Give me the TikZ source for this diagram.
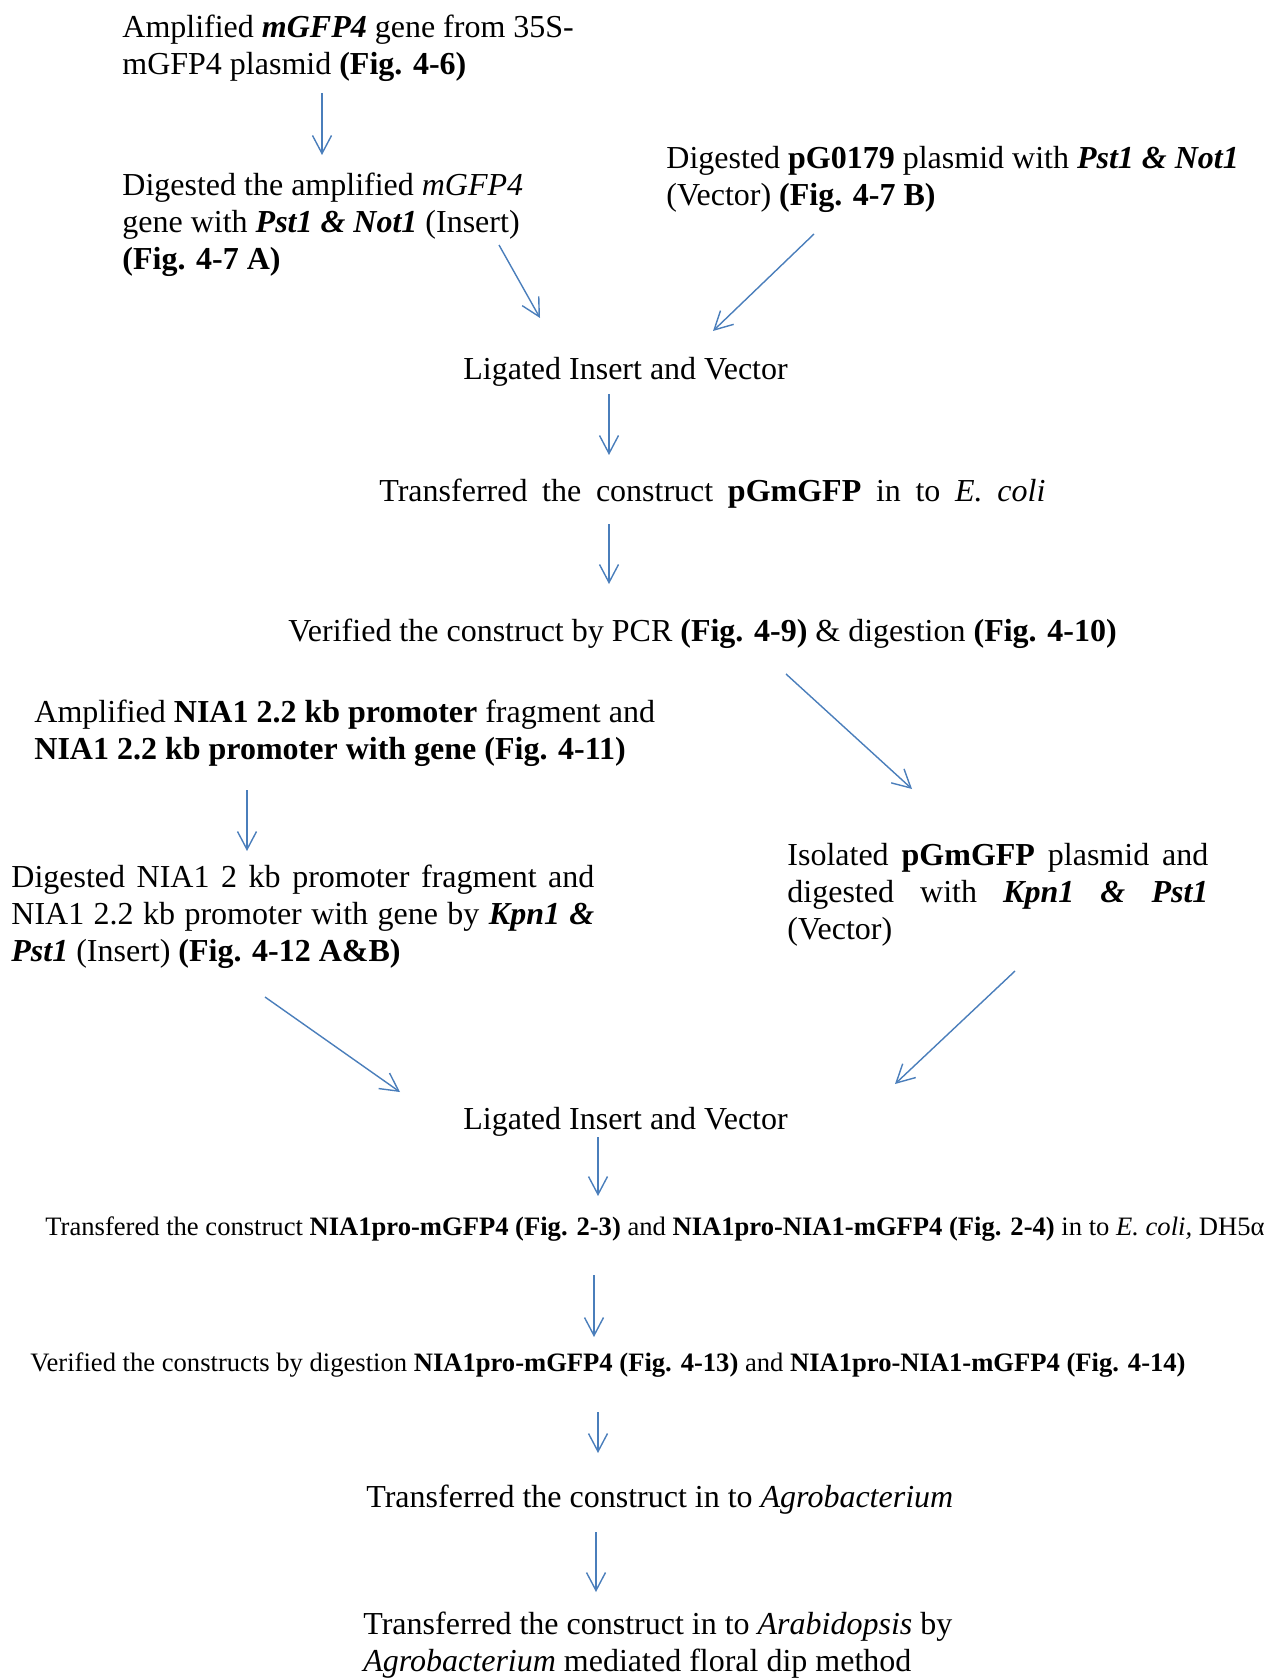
\documentclass[tikz,border=0pt]{standalone}
\usepackage{fontspec}
\setmainfont{Liberation Serif}
\usetikzlibrary{arrows.meta}
\definecolor{flowblue}{RGB}{74,126,187}
\newcommand{\spreadline}[2]{\makebox[#1][s]{#2}}

\begin{document}
\begin{tikzpicture}[x=0.5pt, y=-0.5pt,
  stage/.style={inner sep=0pt, anchor=base west, align=left,
    font=\fontsize{16}{18.5}\selectfont},
  stagesmall/.style={inner sep=0pt, anchor=base west,
    font=\fontsize{13.3}{15}\selectfont},
  flow/.style={draw=flowblue, line width=0.7pt,
    -{Straight Barb[length=9pt,width=9.5pt]}}]
\useasboundingbox (0,0) rectangle (1281,1679);

% first construct (base = last line)
\node[stage] (ampgfp) at (122,75) {Amplified \textbf{\textit{mGFP4}} gene from 35S-\\
  mGFP4 plasmid \textbf{(Fig. 4-6)}};
\node[stage] (diginsert) at (122,270) {Digested the amplified \textit{mGFP4}\\
  gene with \textbf{\textit{Pst1 \& Not1}} (Insert)\\
  \textbf{(Fig. 4-7 A)}};
\node[stage] (digvector) at (666,206) {Digested \textbf{pG0179} plasmid with \textbf{\textit{Pst1 \& Not1}}\\
  (Vector) \textbf{(Fig. 4-7 B)}};
\node[stage] (ligone) at (463,380) {Ligated Insert and Vector};
\node[stage] (ecolione) at (379,502)
  {\spreadline{333pt}{Transferred the construct \textbf{pGmGFP} in to \textit{E. coli}}};
\node[stage] (verone) at (288,641) {Verified the construct by PCR \textbf{(Fig. 4-9)} \& digestion \textbf{(Fig. 4-10)}};

% second construct
\node[stage] (ampnia) at (34,759) {Amplified \textbf{NIA1 2.2 kb promoter} fragment and\\
  \textbf{NIA1 2.2 kb promoter with gene (Fig. 4-11)}};
\node[stage] (dignia) at (11,961)
  {\spreadline{291.5pt}{Digested NIA1 2 kb promoter fragment and}\\
  \spreadline{291.5pt}{NIA1 2.2 kb promoter with gene by \textbf{\textit{Kpn1 \&}}}\\
  \textbf{\textit{Pst1}} (Insert) \textbf{(Fig. 4-12 A\&B)}};
\node[stage] (isolate) at (787,939)
  {\spreadline{210.5pt}{Isolated \textbf{pGmGFP} plasmid and}\\
  \spreadline{210.5pt}{digested with \textbf{\textit{Kpn1 \& Pst1}}}\\
  (Vector)};
\node[stage] (ligtwo) at (463,1129) {Ligated Insert and Vector};
\node[stagesmall] (ecolitwo) at (45,1235) {Transfered the construct \textbf{NIA1pro-mGFP4 (Fig. 2-3)} and
  \textbf{NIA1pro-NIA1-mGFP4 (Fig. 2-4)} in to \textit{E. coli,} DH5α};
\node[stagesmall] (vertwo) at (30,1371) {Verified the constructs by digestion \textbf{NIA1pro-mGFP4 (Fig. 4-13)} and
  \textbf{NIA1pro-NIA1-mGFP4 (Fig. 4-14)}};
\node[stage] (agro) at (366,1507) {Transferred the construct in to \textit{Agrobacterium}};
\node[stage] (arab) at (363,1671) {Transferred the construct in to \textit{Arabidopsis} by\\
  \textit{Agrobacterium} mediated floral dip method};

% arrow ends
\coordinate (a1) at (322,93);    \coordinate (b1) at (322,155);
\coordinate (a2) at (499,245);   \coordinate (b2) at (540,318);
\coordinate (a3) at (814,234);   \coordinate (b3) at (713,331);
\coordinate (a4) at (609,394);   \coordinate (b4) at (609,455);
\coordinate (a5) at (609,524);   \coordinate (b5) at (609,584);
\coordinate (a6) at (786,674);   \coordinate (b6) at (912,789);
\coordinate (a7) at (247,790);   \coordinate (b7) at (247,851);
\coordinate (a8) at (265,997);   \coordinate (b8) at (400,1092);
\coordinate (a9) at (1015,971);  \coordinate (b9) at (895,1084);
\coordinate (a10) at (598,1137); \coordinate (b10) at (598,1196);
\coordinate (a11) at (594,1275); \coordinate (b11) at (594,1337);
\coordinate (a12) at (598,1412); \coordinate (b12) at (598,1453);
\coordinate (a13) at (596,1532); \coordinate (b13) at (596,1592);

\foreach \i in {1,...,13}
  \draw[flow] (a\i) -- (b\i);
\end{tikzpicture}
\end{document}
